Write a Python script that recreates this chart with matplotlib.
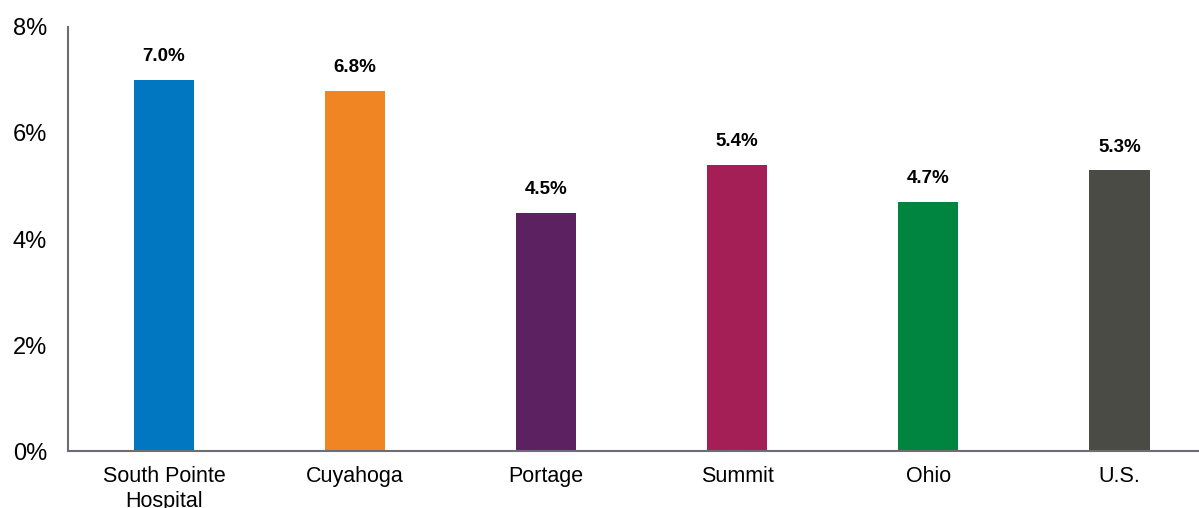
import matplotlib.pyplot as plt
import numpy as np

plt.rcParams['font.family'] = ['Liberation Sans', 'DejaVu Sans']

categories = ['South Pointe\nHospital', 'Cuyahoga', 'Portage', 'Summit', 'Ohio', 'U.S.']
values = [7.0, 6.8, 4.5, 5.4, 4.7, 5.3]
labels = ['7.0%', '6.8%', '4.5%', '5.4%', '4.7%', '5.3%']
colors = ['#0077c0', '#f08523', '#5b2160', '#a41f56', '#008540', '#4b4b45']
yticks = [0, 2, 4, 6, 8]

fig = plt.figure(figsize=(11.99, 5.08), dpi=100)
ax = fig.add_axes([0.0567, 0.112, 0.9433, 0.835])

x = np.arange(len(categories))
bars = ax.bar(x, values, width=0.314, color=colors)

for b, lab in zip(bars, labels):
    ax.annotate(lab, (b.get_x() + b.get_width() / 2, b.get_height()),
                xytext=(0, 10.5), textcoords='offset points',
                ha='center', va='bottom', fontsize=13.5, fontweight='bold')

ax.set_xlim(-0.502, 5.416)
ax.set_ylim(0, 8)
ax.set_yticks(yticks)
ax.set_yticklabels([f'{t}%' for t in yticks], fontsize=17)
ax.set_xticks(x)
ax.set_xticklabels(categories, fontsize=15.5, linespacing=1.3)
ax.tick_params(axis='y', length=0, pad=15)
ax.tick_params(axis='x', length=0, pad=10.5)

for s in ['top', 'right']:
    ax.spines[s].set_visible(False)
for s in ['left', 'bottom']:
    ax.spines[s].set_color('#6d6d75')
    ax.spines[s].set_linewidth(1.5)

fig.savefig('out.png', dpi=100)
